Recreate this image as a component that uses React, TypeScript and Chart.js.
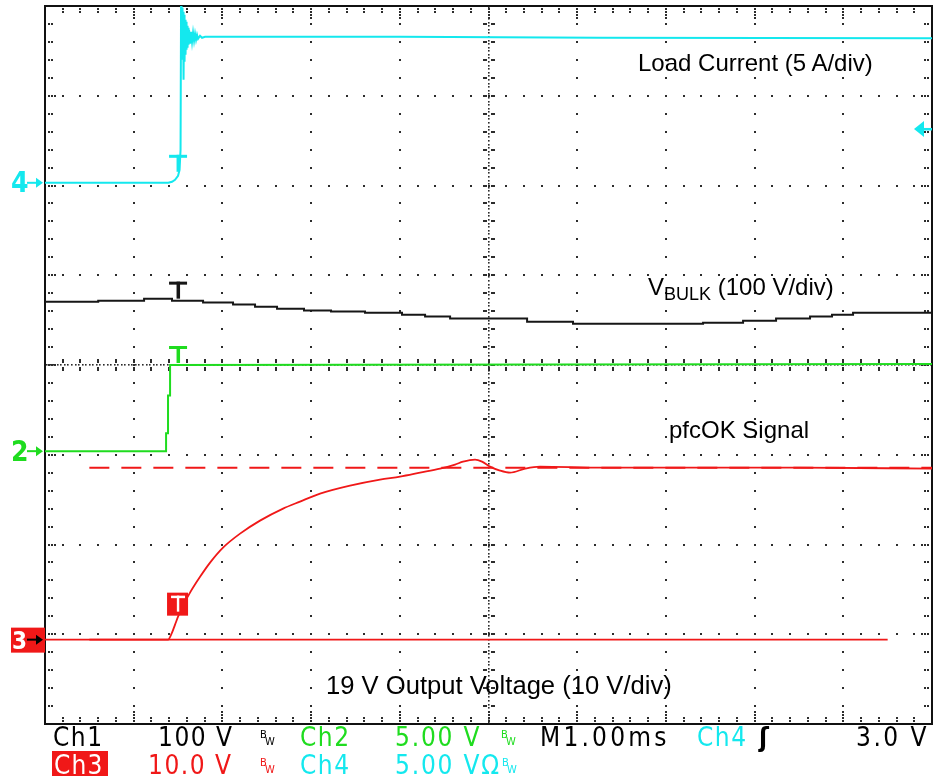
import React, { useEffect, useRef } from 'react';
import { Chart, registerables } from 'chart.js';

Chart.register(...registerables);

// Horizontal axis: time in ms relative to the trigger, 1.00 ms/div, 10 divisions
const X_MIN = -1.5;
const X_MAX = 8.5;
// Vertical axis: 8 screen divisions, 0 at the bottom
const Y_DIVS = 8;

// Ch4 – Load current (5 A/div), ground marker position in divisions
const CH4_SCALE = 5;
const CH4_GROUND = 6.03;
const CH4_TRIG_LEVEL = 3.0;
const ch4Time = [-1.5, -0.11, -0.068, -0.034, 0, 0.017, 0.0282, 0.0338, 0.0395, 0.0451, 0.0507, 0.0564, 0.062, 0.0676, 0.0733, 0.0789, 0.0846, 0.0902, 0.0958, 0.1015, 0.1071, 0.1127, 0.1184, 0.124, 0.1353, 0.1466, 0.1578, 0.1691, 0.1804, 0.1917, 0.2029, 0.2142, 0.2255, 0.248, 0.2706, 0.3044, 2.5, 4.75, 8.5];
const ch4Amps = [0, 0, 0.06, 0.17, 0.39, 0.72, 1.84, 9.86, 8.52, 9.75, 6.85, 9.53, 5.74, 9.36, 6.74, 9.08, 7.13, 8.97, 7.41, 8.75, 7.52, 8.64, 7.69, 8.52, 7.75, 8.41, 7.86, 8.36, 7.91, 8.3, 7.97, 8.24, 8.02, 8.19, 8.08, 8.13, 8.13, 8.08, 8.05];

// Ch1 – V BULK (100 V/div)
const CH1_SCALE = 100;
const CH1_GROUND = 0.94;
const ch1Time = [-1.5, -0.9, -0.383, -0.068, 0.282, 0.62, 0.868, 1.116, 1.42, 1.725, 2.108, 2.525, 2.785, 3.067, 3.935, 4.453, 5.919, 6.37, 6.742, 7.125, 7.373, 7.61, 8.5];
const ch1Volts = [376.6, 377.7, 379.9, 377.7, 375.5, 373.3, 371.0, 368.8, 366.6, 365.5, 364.3, 362.1, 359.9, 357.7, 354.3, 352.1, 353.2, 355.4, 357.7, 359.9, 362.1, 364.3, 364.3];

// Ch2 – pfcOK signal (5 V/div)
const CH2_SCALE = 5;
const CH2_GROUND = 3.04;
const ch2Time = [-1.5, -0.135, -0.135, -0.113, -0.113, -0.09, -0.09, 8.5];
const ch2Volts = [0, 0, 1.0, 1.0, 3.1, 3.1, 4.8, 4.85];

// Ch3 – 19 V output voltage (10 V/div)
const CH3_SCALE = 10;
const CH3_GROUND = 0.94;
const ch3Time = [-1.0, -0.113, -0.068, -0.034, 0, 0.056, 0.135, 0.248, 0.361, 0.507, 0.699, 0.924, 1.184, 1.375, 1.601, 1.939, 2.277, 2.503, 2.728, 2.954, 3.123, 3.213, 3.348, 3.427, 3.517, 3.63, 3.743, 3.912, 4.081, 4.758, 5.885, 7.012, 8.5];
const ch3Volts = [0, 0, 0.78, 1.67, 2.56, 3.79, 5.24, 7.0, 8.58, 10.25, 11.81, 13.26, 14.6, 15.38, 16.27, 17.16, 17.83, 18.16, 18.6, 19.05, 19.5, 19.83, 20.06, 19.83, 19.28, 18.83, 18.6, 19.05, 19.28, 19.16, 19.16, 19.16, 19.05];
const ch3BaseTime = [-1.5, 8.0];
const ch3BaseVolts = [0, 0];
const ch3TargetTime = [-1.0, 8.5];
const ch3TargetVolts = [19.16, 19.16];

const CYAN = '#14E8EE';
const GREEN = '#1FDC1F';
const RED = '#F01818';
const BLACK = '#161616';

const toPoints = (t: number[], v: number[], ground: number, scale: number) =>
  t.map((tt, i) => ({ x: tt, y: ground + v[i] / scale }));

const scopePlugin = {
  id: 'scopeGraticule',
  beforeDatasetsDraw(chart: any) {
    const { ctx, chartArea: a } = chart;
    const dx = (a.right - a.left) / 10;
    const dy = (a.bottom - a.top) / Y_DIVS;
    ctx.save();
    ctx.fillStyle = '#2c2c2c';
    const dot = (px: number, py: number, s = 2) => ctx.fillRect(Math.round(px - s / 2), Math.round(py - s / 2), s, s);
    for (let i = 1; i < 10; i++) {
      if (i === 5) continue;
      const px = a.left + i * dx;
      for (let j = 1; j < Y_DIVS * 5; j++) dot(px, a.top + (j * dy) / 5);
    }
    for (let k = 1; k < Y_DIVS; k++) {
      if (k === 4) continue;
      const py = a.top + k * dy;
      for (let j = 1; j < 50; j++) dot(a.left + (j * dx) / 5, py);
    }
    const cx = a.left + 5 * dx;
    const cy = a.top + 4 * dy;
    for (let py = a.top + 2; py < a.bottom - 1; py += dy / 25) dot(cx, py, 1.6);
    for (let px = a.left + 2; px < a.right - 1; px += dx / 25) dot(px, cy, 1.6);
    for (let j = 1; j < Y_DIVS * 5; j++) {
      const py = a.top + (j * dy) / 5;
      for (const o of [-5, -3, 3, 5]) dot(cx + o, py);
    }
    for (let j = 1; j < 50; j++) {
      const px = a.left + (j * dx) / 5;
      for (const o of [-5, -3, 3, 5]) dot(px, cy + o);
    }
    for (let j = 1; j < Y_DIVS * 5; j++) {
      const py = a.top + (j * dy) / 5;
      const offs = j % 5 === 0 ? [4, 7, 10] : [4, 7];
      for (const o of offs) {
        dot(a.left + o, py);
        dot(a.right - o, py);
      }
    }
    for (let j = 1; j < 50; j++) {
      const px = a.left + (j * dx) / 5;
      const offs = j % 5 === 0 ? [3, 6, 9, 12] : [3, 6];
      for (const o of offs) {
        dot(px, a.top + o);
        dot(px, a.bottom - o);
      }
    }
    ctx.strokeStyle = '#111';
    ctx.lineWidth = 2;
    ctx.strokeRect(a.left, a.top, a.right - a.left, a.bottom - a.top);
    ctx.restore();
  },
  afterDatasetsDraw(chart: any) {
    const { ctx, chartArea: a, scales } = chart;
    const x = scales.x;
    const y = scales.y;
    const x0 = x.getPixelForValue(0);
    ctx.save();
    const tMark = (color: string, py: number) => {
      ctx.fillStyle = color;
      ctx.fillRect(x0 - 9, py - 19, 18, 3);
      ctx.fillRect(x0 - 1.5, py - 19, 3.5, 17);
    };
    tMark(CYAN, y.getPixelForValue(CH4_GROUND + 0.39 / CH4_SCALE) - 2);
    tMark(BLACK, y.getPixelForValue(CH1_GROUND + 377.7 / CH1_SCALE));
    tMark(GREEN, y.getPixelForValue(CH2_GROUND + 4.8 / CH2_SCALE));
    // Ch3 trigger marker box
    const r0 = y.getPixelForValue(CH3_GROUND + 2.56 / CH3_SCALE);
    ctx.fillStyle = RED;
    ctx.fillRect(x0 - 11, r0 - 24, 21, 23);
    ctx.fillStyle = '#fff';
    ctx.fillRect(x0 - 7, r0 - 21, 14, 2.5);
    ctx.fillRect(x0 - 1.2, r0 - 21, 2.4, 16);

    const arrow = (color: string, py: number) => {
      ctx.strokeStyle = color;
      ctx.fillStyle = color;
      ctx.lineWidth = 2;
      ctx.beginPath();
      ctx.moveTo(27, py);
      ctx.lineTo(37, py);
      ctx.stroke();
      ctx.beginPath();
      ctx.moveTo(43, py);
      ctx.lineTo(36, py - 5);
      ctx.lineTo(36, py + 5);
      ctx.closePath();
      ctx.fill();
    };
    arrow(CYAN, y.getPixelForValue(CH4_GROUND));
    arrow(GREEN, y.getPixelForValue(CH2_GROUND));
    const g3 = y.getPixelForValue(CH3_GROUND);
    ctx.fillStyle = RED;
    ctx.fillRect(11, g3 - 12, 34, 25);
    arrow('#000', g3);

    // Ch4 trigger level marker on the right edge
    const tl = y.getPixelForValue(CH4_GROUND + CH4_TRIG_LEVEL / CH4_SCALE);
    ctx.fillStyle = CYAN;
    ctx.beginPath();
    ctx.moveTo(a.right - 18, tl);
    ctx.lineTo(a.right - 8, tl - 8);
    ctx.lineTo(a.right - 8, tl + 8);
    ctx.closePath();
    ctx.fill();
    ctx.fillRect(a.right - 9, tl - 1, 9, 2.5);
    ctx.restore();
  },
};

const annotFont = '"Liberation Sans", Arial, Helvetica, sans-serif';
const tekFont = '"Liberation Sans Narrow", "DejaVu Sans Condensed", sans-serif';

const Txt = (p: any) => (
  <div
    style={{
      position: 'absolute',
      left: p.x,
      top: p.y,
      fontSize: p.size,
      lineHeight: 1,
      color: p.color || '#000',
      fontFamily: p.font || annotFont,
      whiteSpace: 'pre',
      letterSpacing: p.ls || 0,
      fontWeight: p.weight || 'normal',
    }}
  >
    {p.children}
  </div>
);

const BW = ({ x, y, color }: any) => (
  <>
    <Txt x={x} y={y} size={11} color={color} font={tekFont}>B</Txt>
    <Txt x={x + 5} y={y + 7} size={11} color={color} font={tekFont}>W</Txt>
  </>
);

export default function App() {
  const canvasRef = useRef<HTMLCanvasElement | null>(null);

  useEffect(() => {
    if (!canvasRef.current) return;
    const line = (data: any[], color: string, width: number, extra: any = {}) => ({
      data,
      borderColor: color,
      borderWidth: width,
      pointRadius: 0,
      tension: 0,
      fill: false,
      ...extra,
    });
    const chart = new Chart(canvasRef.current, {
      type: 'line',
      data: {
        datasets: [
          line(toPoints(ch4Time, ch4Amps, CH4_GROUND, CH4_SCALE), CYAN, 2),
          line(toPoints(ch2Time, ch2Volts, CH2_GROUND, CH2_SCALE), GREEN, 2),
          line(toPoints(ch1Time, ch1Volts, CH1_GROUND, CH1_SCALE), BLACK, 2, { stepped: true }),
          line(toPoints(ch3Time, ch3Volts, CH3_GROUND, CH3_SCALE), RED, 1.8, { cubicInterpolationMode: 'monotone' }),
          line(toPoints(ch3TargetTime, ch3TargetVolts, CH3_GROUND, CH3_SCALE), RED, 2, { borderDash: [20, 12] }),
          line(toPoints(ch3BaseTime, ch3BaseVolts, CH3_GROUND, CH3_SCALE), RED, 1.6),
        ],
      },
      options: {
        animation: false,
        responsive: false,
        events: [],
        layout: { padding: { left: 45, right: 6, top: 6, bottom: 54 } },
        scales: {
          x: { type: 'linear', min: X_MIN, max: X_MAX, display: false },
          y: { type: 'linear', min: 0, max: Y_DIVS, display: false },
        },
        plugins: { legend: { display: false }, tooltip: { enabled: false } },
      },
      plugins: [scopePlugin],
    });
    return () => chart.destroy();
  }, []);

  return (
    <div style={{ position: 'fixed', left: 0, top: 0, width: 938, height: 778, background: '#fff', overflow: 'hidden' }}>
      <canvas ref={canvasRef} width={938} height={778} style={{ width: 938, height: 778, display: 'block' }} />

      <Txt x={638} y={51} size={24}>Load Current (5 A/div)</Txt>
      <div style={{ position: 'absolute', left: 648, top: 275, fontSize: 24, lineHeight: 1, fontFamily: annotFont, whiteSpace: 'pre' }}>
        V<span style={{ fontSize: 18, position: 'relative', top: 5 }}>BULK</span> (100 V/div)
      </div>
      <Txt x={669} y={418} size={24}>pfcOK Signal</Txt>
      <Txt x={326} y={673} size={25.6}>19 V Output Voltage (10 V/div)</Txt>

      <Txt x={11} y={169} size={28} color={CYAN} font={tekFont} weight="bold">4</Txt>
      <Txt x={11} y={438} size={28} color={GREEN} font={tekFont} weight="bold">2</Txt>
      <Txt x={12} y={629} size={24} color="#fff" font={tekFont} weight="bold">3</Txt>

      <Txt x={53} y={724} size={26} font={tekFont} ls={1.5}>Ch1</Txt>
      <Txt x={158} y={724} size={26} font={tekFont} ls={1.5}>100 V</Txt>
      <BW x={260} y={729} color="#000" />
      <Txt x={300} y={724} size={26} color={GREEN} font={tekFont} ls={1.5}>Ch2</Txt>
      <Txt x={395} y={724} size={26} color={GREEN} font={tekFont} ls={1.8}>5.00 V</Txt>
      <BW x={501} y={729} color={GREEN} />
      <Txt x={540} y={724} size={26} font={tekFont} ls={3.2}>M1.00ms</Txt>
      <Txt x={697} y={724} size={26} color={CYAN} font={tekFont} ls={1.5}>Ch4</Txt>
      <Txt x={759} y={724} size={26} font={tekFont} weight="bold">ʃ</Txt>
      <Txt x={856} y={724} size={26} font={tekFont} ls={2.5}>3.0 V</Txt>

      <div style={{ position: 'absolute', left: 52, top: 751, width: 56, height: 25, background: RED }} />
      <Txt x={54} y={752} size={26} color="#fff" font={tekFont} ls={1.2}>Ch3</Txt>
      <Txt x={148} y={752} size={26} color={RED} font={tekFont} ls={1.5}>10.0 V</Txt>
      <BW x={260} y={757} color={RED} />
      <Txt x={300} y={752} size={26} color={CYAN} font={tekFont} ls={1.5}>Ch4</Txt>
      <Txt x={395} y={752} size={26} color={CYAN} font={tekFont} ls={1.8}>5.00 VΩ</Txt>
      <BW x={502} y={757} color={CYAN} />
    </div>
  );
}
